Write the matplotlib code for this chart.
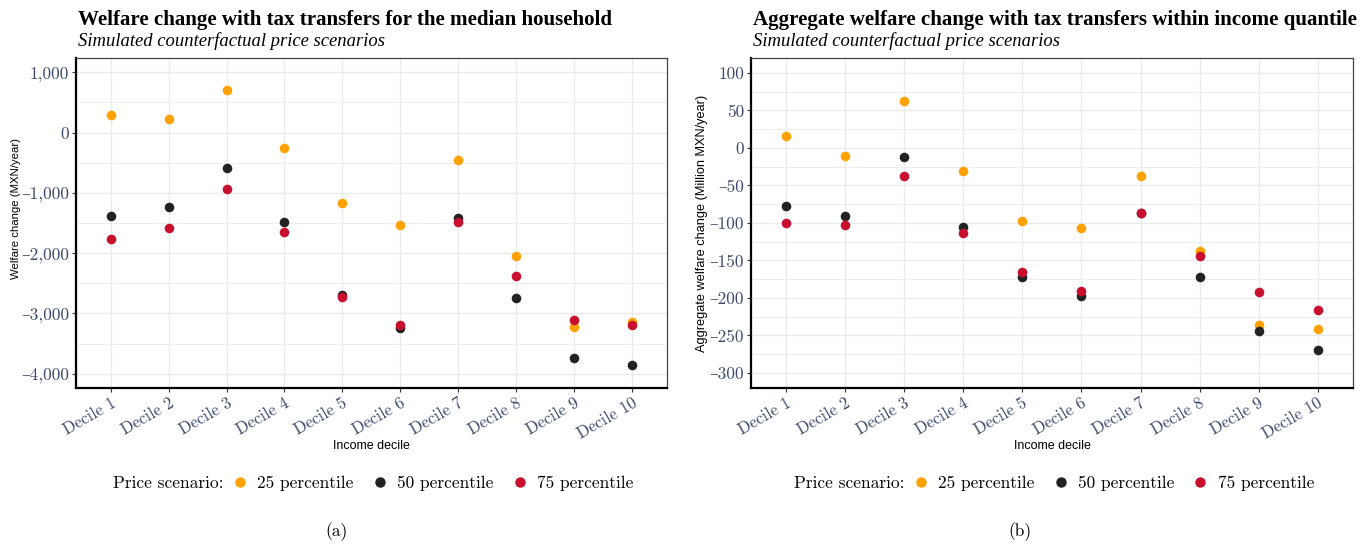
import matplotlib
matplotlib.use("Agg")
import matplotlib.pyplot as plt
import matplotlib.transforms as mtransforms
from matplotlib.lines import Line2D
from matplotlib.ticker import FixedLocator, FuncFormatter

# --- data ---
deciles = ["Decile %d" % i for i in range(1, 11)]
scenarios = ["25 percentile", "50 percentile", "75 percentile"]
colors = ["#FFA200", "#222222", "#C8102E"]

# (a) median household, MXN/year
median_p25 = [290, 225, 700, -255, -1175, -1535, -455, -2040, -3220, -3140]
median_p50 = [-1385, -1235, -585, -1480, -2690, -3240, -1415, -2745, -3740, -3855]
median_p75 = [-1770, -1580, -935, -1650, -2725, -3185, -1485, -2375, -3105, -3185]

# (b) aggregate within quantile, million MXN/year
agg_p25 = [16, -11, 62, -31, -97, -107, -37, -137, -236, -241]
agg_p50 = [-78, -91, -12, -106, -172, -198, -87, -172, -244, -269]
agg_p75 = [-100, -103, -37, -113, -165, -191, -87, -144, -192, -216]

SERIF = ["cmr10", "DejaVu Serif"]
TITLE = "Liberation Serif"
SANS = "Liberation Sans"
TICKCOL = "#3B4A6B"


def fmt(v, pos):
    # short dash like the LaTeX-ish labels in the original
    return "{:,.0f}".format(v).replace("-", "\u2013")


def panel(ax, series, ylim, major, minor, ylabel, ylab_fs, ylab_xy,
          title, sub, letter_x, letter):
    x = list(range(1, 11))
    for vals, c in zip(series, colors):
        ax.scatter(x, vals, s=48, color=c, zorder=3, linewidths=0)
    ax.set_xlim(0.4, 10.6)
    ax.set_ylim(*ylim)
    ax.set_xticks(x)
    ax.set_xticklabels(deciles, rotation=30, ha="right", rotation_mode="anchor",
                       family=SERIF, fontsize=12, color=TICKCOL)
    shift = mtransforms.ScaledTranslation(5 / 72, 0, fig.dpi_scale_trans)
    for lab in ax.get_xticklabels():
        lab.set_transform(lab.get_transform() + shift)
    ax.yaxis.set_major_locator(FixedLocator(major))
    ax.yaxis.set_minor_locator(FixedLocator(minor))
    ax.yaxis.set_major_formatter(FuncFormatter(fmt))
    for lab in ax.get_yticklabels():
        lab.set_family(SERIF)
    ax.tick_params(axis="y", which="major", labelsize=12.5, labelcolor=TICKCOL)
    ax.tick_params(axis="both", which="major", length=3, width=0.8, color="#333333", pad=2)
    ax.tick_params(axis="y", which="minor", length=0)
    ax.grid(True, which="major", color="#EBEBEB", lw=1.0, zorder=0)
    ax.grid(True, which="minor", axis="y", color="#EBEBEB", lw=0.6, zorder=0)
    ax.set_axisbelow(True)
    for side in ["left", "bottom"]:
        ax.spines[side].set_linewidth(1.6)
        ax.spines[side].set_color("black")
    for side in ["top", "right"]:
        ax.spines[side].set_linewidth(0.9)
        ax.spines[side].set_color("#444444")
    ax.set_ylabel(ylabel, family=SANS, fontsize=ylab_fs)
    ax.yaxis.set_label_coords(*ylab_xy)
    ax.set_xlabel("Income decile", family=SANS, fontsize=9)
    ax.xaxis.set_label_coords(0.5, -0.158)

    pos = ax.get_position()
    fig.text(pos.x0 + 0.0015, 0.954, title, family=TITLE, weight="bold", fontsize=15.1,
             ha="left", va="baseline")
    fig.text(pos.x0 + 0.0015, 0.9165, sub, family=TITLE, style="italic", fontsize=13.4,
             ha="left", va="baseline")

    cx = pos.x0 + pos.width / 2
    handles = [Line2D([], [], marker="o", ls="", color=c, markersize=6.5) for c in colors]
    fig.legend(handles, scenarios, loc="center left", ncol=3, frameon=False,
               bbox_to_anchor=(cx - 0.101, 0.113), prop={"family": SERIF, "size": 12.5},
               handlelength=0.8, handletextpad=0.6, columnspacing=1.1,
               borderaxespad=0, borderpad=0)
    fig.text(cx - 0.108, 0.113, "Price scenario:", family=SERIF, fontsize=12.5,
             ha="right", va="center")
    fig.text(letter_x, 0.017, letter, family=SERIF, fontsize=12.5, ha="center", va="baseline")


fig = plt.figure(figsize=(13.68, 5.45), dpi=100)
ax1 = fig.add_axes([0.0556, 0.2881, 0.4317, 0.6055])
ax2 = fig.add_axes([0.5490, 0.2881, 0.4400, 0.6055])

panel(ax1, [median_p25, median_p50, median_p75], (-4237, 1237),
      [1000, 0, -1000, -2000, -3000, -4000],
      [500, -500, -1500, -2500, -3500],
      "Welfare change (MXN/year)", 8.2, (-0.093, 0.545),
      "Welfare change with tax transfers for the median household",
      "Simulated counterfactual price scenarios", 337 / 1368, "(a)")

panel(ax2, [agg_p25, agg_p50, agg_p75], (-320, 120),
      [100, 50, 0, -50, -100, -150, -200, -250, -300],
      [75, 25, -25, -75, -125, -175, -225, -275],
      "Aggregate welfare change (Million MXN/year)", 9.2, (-0.072, 0.5),
      "Aggregate welfare change with tax transfers within income quantile",
      "Simulated counterfactual price scenarios", 1020 / 1368, "(b)")

fig.savefig("out.png", dpi=100)
